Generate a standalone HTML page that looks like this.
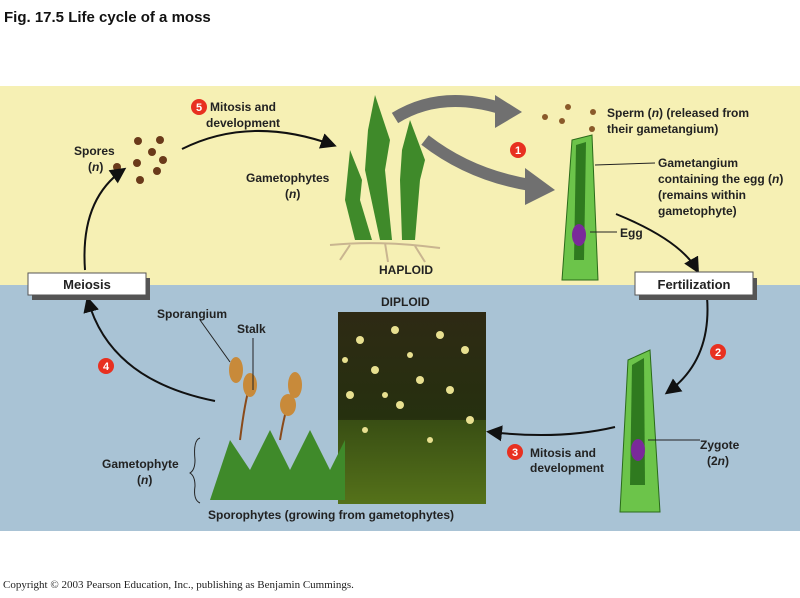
<!DOCTYPE html>
<html><head><meta charset="utf-8"><style>
body{margin:0;width:800px;height:593px;background:#fff;overflow:hidden;font-family:"Liberation Sans",sans-serif}
</style></head><body>
<svg width="800" height="593" viewBox="0 0 800 593" xmlns="http://www.w3.org/2000/svg" font-family="Liberation Sans, sans-serif">
<defs>
<linearGradient id="ph" x1="0" y1="0" x2="0" y2="1">
<stop offset="0" stop-color="#2e2a14"/><stop offset="0.55" stop-color="#26300f"/><stop offset="1" stop-color="#607a1c"/></linearGradient>
<marker id="ah" markerWidth="8" markerHeight="8" refX="6" refY="4" orient="auto"><path d="M0,0 L8,4 L0,8 Z" fill="#111"/></marker>
</defs>
<text x="4" y="22" font-size="15" font-weight="bold" fill="#111">Fig. 17.5  Life cycle of a moss</text>
<rect x="0" y="86" width="800" height="199" fill="#f6f0b4"/>
<rect x="0" y="285" width="800" height="246" fill="#a9c3d5"/>
<!-- photo -->
<rect x="338" y="312" width="148" height="192" fill="url(#ph)"/>
<rect x="338" y="420" width="148" height="84" fill="#4a6a18" opacity="0.5"/>
<g fill="#e8e090">
<circle cx="360" cy="340" r="4"/><circle cx="395" cy="330" r="4"/><circle cx="440" cy="335" r="4"/><circle cx="465" cy="350" r="4"/><circle cx="375" cy="370" r="4"/><circle cx="420" cy="380" r="4"/><circle cx="450" cy="390" r="4"/><circle cx="350" cy="395" r="4"/><circle cx="400" cy="405" r="4"/><circle cx="470" cy="420" r="4"/><circle cx="365" cy="430" r="3"/><circle cx="430" cy="440" r="3"/><circle cx="345" cy="360" r="3"/><circle cx="410" cy="355" r="3"/><circle cx="385" cy="395" r="3"/></g>
<!-- gametophytes top -->
<g fill="#3f8a2a">
<path d="M375 95 L390 140 L385 170 L392 240 L380 240 L365 170 L368 130 Z"/><path d="M410 120 L425 160 L420 180 L415 240 L402 240 L400 180 L402 150 Z"/><path d="M350 150 L362 180 L360 200 L372 240 L355 240 L345 200 Z"/>
</g>
<path d="M330 245 Q380 240 440 248 M350 245 L340 260 M385 243 L388 262 M415 246 L425 262" stroke="#c9b590" stroke-width="2" fill="none"/>
<!-- gametangium top -->
<path d="M572 140 L592 135 L598 280 L562 280 Z" fill="#6cc44a" stroke="#2a6a1a"/>
<path d="M576 145 L586 142 L584 260 L574 260 Z" fill="#2f7a1f"/>
<ellipse cx="579" cy="235" rx="7" ry="11" fill="#7a2a9a"/>
<!-- gametangium bottom -->
<path d="M628 360 L650 350 L660 512 L620 512 Z" fill="#6cc44a" stroke="#2a6a1a"/>
<path d="M632 365 L644 358 L645 485 L630 485 Z" fill="#2f7a1f"/>
<ellipse cx="638" cy="450" rx="7" ry="11" fill="#7a2a9a"/>
<!-- bottom moss -->
<path d="M210 500 L230 440 L250 470 L270 430 L290 470 L310 430 L330 470 L345 440 L345 500 Z" fill="#3f8a2a"/>
<path d="M240 440 Q245 400 250 385 M280 440 Q285 410 290 400" stroke="#8a4a1a" stroke-width="2" fill="none"/>
<ellipse cx="236" cy="370" rx="7" ry="13" fill="#c88a3a"/><ellipse cx="250" cy="385" rx="7" ry="12" fill="#c88a3a"/><ellipse cx="295" cy="385" rx="7" ry="13" fill="#c88a3a"/><ellipse cx="288" cy="405" rx="8" ry="11" fill="#c88a3a"/>
<!-- spores -->
<g fill="#6a3a1a"><circle cx="138" cy="141" r="4"/><circle cx="160" cy="140" r="4"/><circle cx="152" cy="152" r="4"/><circle cx="163" cy="160" r="4"/><circle cx="137" cy="163" r="4"/><circle cx="117" cy="167" r="4"/><circle cx="157" cy="171" r="4"/><circle cx="140" cy="180" r="4"/></g>
<g fill="#8a5a2a"><circle cx="545" cy="117" r="3"/><circle cx="562" cy="121" r="3"/><circle cx="568" cy="107" r="3"/><circle cx="593" cy="112" r="3"/><circle cx="592" cy="129" r="3"/></g>
<!-- gray arrows -->
<path d="M395 118 Q440 90 500 108" stroke="#707070" stroke-width="12" fill="none"/><path d="M495 95 L522 112 L495 128 Z" fill="#707070"/>
<path d="M425 140 Q470 175 530 185" stroke="#707070" stroke-width="12" fill="none"/><path d="M525 168 L555 190 L525 205 Z" fill="#707070"/>
<!-- black arrows -->
<g stroke="#111" stroke-width="2" fill="none" marker-end="url(#ah)">
<path d="M182 149 Q250 115 333 145"/>
<path d="M616 214 Q680 240 697 270"/>
<path d="M707 297 Q712 360 668 392"/>
<path d="M615 427 Q560 440 490 432"/>
<path d="M215 401 Q110 380 88 300"/>
<path d="M85 270 Q80 200 123 170"/>
</g>
<!-- boxes -->
<rect x="32" y="278" width="118" height="22" fill="#555"/><rect x="28" y="273" width="118" height="22" fill="#fff" stroke="#555"/>
<text x="87" y="289" font-size="13" font-weight="bold" text-anchor="middle" fill="#222">Meiosis</text>
<rect x="639" y="278" width="118" height="22" fill="#555"/><rect x="635" y="272" width="118" height="23" fill="#fff" stroke="#555"/>
<text x="694" y="289" font-size="13" font-weight="bold" text-anchor="middle" fill="#222">Fertilization</text>
<!-- numbered circles -->
<g fill="#e83020"><circle cx="199" cy="107" r="8"/><circle cx="518" cy="150" r="8"/><circle cx="718" cy="352" r="8"/><circle cx="515" cy="452" r="8"/><circle cx="106" cy="366" r="8"/></g>
<g fill="#fff" font-size="11" font-weight="bold" text-anchor="middle"><text x="199" y="111">5</text><text x="518" y="154">1</text><text x="718" y="356">2</text><text x="515" y="456">3</text><text x="106" y="370">4</text></g>
<g font-size="12" font-weight="bold" fill="#222">
<text x="210" y="111">Mitosis and</text><text x="206" y="127">development</text>
<text x="74" y="155">Spores</text><text x="88" y="171">(<tspan font-style="italic">n</tspan>)</text>
<text x="246" y="182">Gametophytes</text><text x="285" y="198">(<tspan font-style="italic">n</tspan>)</text>
<text x="607" y="117">Sperm (<tspan font-style="italic">n</tspan>) (released from</text><text x="607" y="133">their gametangium)</text>
<text x="658" y="167">Gametangium</text><text x="658" y="183">containing the egg (<tspan font-style="italic">n</tspan>)</text><text x="658" y="199">(remains within</text><text x="658" y="215">gametophyte)</text>
<text x="620" y="237">Egg</text>
<text x="379" y="274">HAPLOID</text>
<text x="381" y="306">DIPLOID</text>
<text x="157" y="318">Sporangium</text><text x="237" y="333">Stalk</text>
<text x="102" y="468">Gametophyte</text><text x="137" y="484">(<tspan font-style="italic">n</tspan>)</text>
<text x="530" y="457">Mitosis and</text><text x="530" y="472">development</text>
<text x="700" y="449">Zygote</text><text x="707" y="465">(2<tspan font-style="italic">n</tspan>)</text>
<text x="208" y="519">Sporophytes (growing from gametophytes)</text>
</g>
<g stroke="#222" stroke-width="1" fill="none">
<path d="M595 165 L655 163"/><path d="M590 232 L617 232"/><path d="M648 440 L700 440"/>
<path d="M200 320 L230 362"/><path d="M253 338 L253 390"/>
<path d="M200 438 Q193 440 195 460 Q195 470 190 473 Q195 476 195 486 Q193 500 200 503"/>
</g>
<text x="3" y="588" font-family="Liberation Serif, serif" font-size="11" fill="#222">Copyright © 2003 Pearson Education, Inc., publishing as Benjamin Cummings.</text>
</svg>
</body></html>
